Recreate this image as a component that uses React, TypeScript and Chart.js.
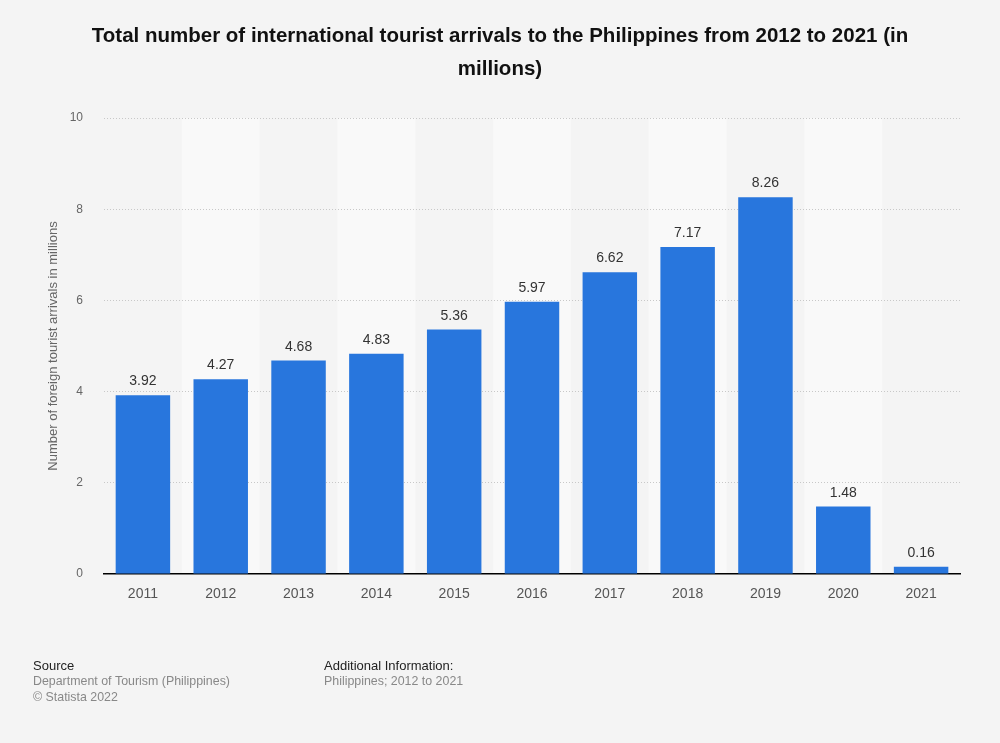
import React, { useEffect, useRef } from "react";
import { Chart, registerables } from "chart.js";

Chart.register(...registerables);

const categories = ["2011", "2012", "2013", "2014", "2015", "2016", "2017", "2018", "2019", "2020", "2021"];
const arrivals = [3.92, 4.27, 4.68, 4.83, 5.36, 5.97, 6.62, 7.17, 8.26, 1.48, 0.16];
const titleLines = [
  "Total number of international tourist arrivals to the Philippines from 2012 to 2021 (in",
  "millions)",
];
const yAxisTitle = "Number of foreign tourist arrivals in millions";
const sourceLines = ["Department of Tourism (Philippines)", "© Statista 2022"];
const additionalLines = ["Philippines; 2012 to 2021"];

const FONT = "'Liberation Sans', Arial, sans-serif";

const decorPlugin = {
  id: "decor",
  beforeDraw(chart: any) {
    const { ctx, chartArea, scales } = chart;
    ctx.save();
    ctx.fillStyle = "#f4f4f4";
    ctx.fillRect(0, 0, chart.width, chart.height);
    const x = scales.x;
    const step = (chartArea.right - chartArea.left) / categories.length;
    ctx.fillStyle = "#f9f9f9";
    categories.forEach((_, i) => {
      if (i % 2 === 1) {
        const c = x.getPixelForValue(i);
        ctx.fillRect(c - step / 2, chartArea.top, step, chartArea.bottom - chartArea.top);
      }
    });
    ctx.restore();
  },
  afterDraw(chart: any) {
    const { ctx, chartArea } = chart;
    ctx.save();
    // title
    ctx.fillStyle = "#111";
    ctx.font = `bold 20.5px ${FONT}`;
    ctx.textAlign = "center";
    ctx.textBaseline = "middle";
    titleLines.forEach((l, i) => ctx.fillText(l, 500, 36 + i * 33));
    // y axis title
    ctx.save();
    ctx.translate(53, (chartArea.top + chartArea.bottom) / 2);
    ctx.rotate(-Math.PI / 2);
    ctx.font = `13px ${FONT}`;
    ctx.fillStyle = "#666";
    ctx.fillText(yAxisTitle, 0, 0);
    ctx.restore();
    // data labels
    const meta = chart.getDatasetMeta(0);
    ctx.font = `14px ${FONT}`;
    ctx.fillStyle = "#333";
    ctx.textBaseline = "alphabetic";
    meta.data.forEach((bar: any, i: number) => {
      ctx.fillText(arrivals[i].toFixed(2), bar.x, bar.y - 10);
    });
    // footer
    ctx.textAlign = "left";
    ctx.textBaseline = "middle";
    ctx.font = `13px ${FONT}`;
    ctx.fillStyle = "#222";
    ctx.fillText("Source", 33, 666);
    ctx.fillText("Additional Information:", 324, 666);
    ctx.fillStyle = "#888";
    ctx.font = `12.4px ${FONT}`;
    sourceLines.forEach((l, i) => ctx.fillText(l, 33, 682 + i * 16));
    additionalLines.forEach((l, i) => ctx.fillText(l, 324, 682 + i * 16));
    ctx.restore();
  },
};

export default function App() {
  const ref = useRef<HTMLCanvasElement | null>(null);
  useEffect(() => {
    const chart = new Chart(ref.current as HTMLCanvasElement, {
      type: "bar",
      data: {
        labels: categories,
        datasets: [
          {
            data: arrivals,
            backgroundColor: "#2876dd",
            barPercentage: 0.7,
            categoryPercentage: 1,
          },
        ],
      },
      options: {
        animation: false,
        responsive: false,
        maintainAspectRatio: false,
        layout: { padding: { top: 118, right: 40, left: 0, bottom: 0 } },
        plugins: { legend: { display: false }, title: { display: false }, tooltip: { enabled: false } },
        scales: {
          x: {
            grid: { display: false, drawTicks: false },
            border: { display: true, color: "#000", width: 1.5 },
            ticks: { color: "#555", font: { family: FONT, size: 14 }, padding: 12 },
            afterFit(scale: any) {
              scale.height = 169;
            },
          },
          y: {
            min: 0,
            max: 10,
            ticks: { stepSize: 2, color: "#666", font: { family: FONT, size: 12 }, padding: 21 },
            grid: {
              drawTicks: false,
              color: (c: any) => (c.tick && c.tick.value === 0 ? "rgba(0,0,0,0)" : "#c8c8c8"),
            },
            border: { display: false, dash: [1, 2] },
            afterFit(scale: any) {
              scale.width = 104;
            },
          },
        },
      },
      plugins: [decorPlugin],
    });
    return () => chart.destroy();
  }, []);
  return (
    <div style={{ position: "absolute", left: 0, top: 0, width: 1000, height: 743, background: "#f4f4f4" }}>
      <canvas ref={ref} width={1000} height={743} style={{ display: "block" }} />
    </div>
  );
}
